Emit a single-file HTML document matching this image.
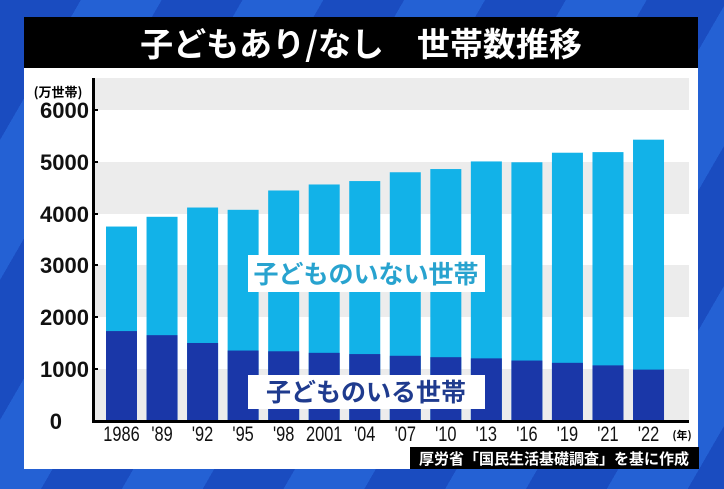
<!DOCTYPE html><html><head><meta charset="utf-8"><style>
body{margin:0;width:724px;height:489px;overflow:hidden;font-family:"Liberation Sans","Noto Sans CJK JP",sans-serif;
background:repeating-linear-gradient(120deg,#1a4cc0 0 70px,#2461d4 70px 140px);}
.abs{position:absolute}
</style></head><body>
<div class="abs" style="left:24px;top:17px;width:674px;height:452px;background:#fff"></div>
<div class="abs" style="left:24px;top:17px;width:674px;height:51px;background:#000;color:#fff;font-size:33px;font-weight:bold;text-align:center;line-height:51px;font-family:'Noto Sans CJK JP',sans-serif;">子どもあり/なし　世帯数推移</div>
<svg class="abs" style="left:0;top:0" width="724" height="489">
<g fill="#ececec">
<rect x="94" y="78" width="595" height="32"/>
<rect x="94" y="162" width="595" height="52"/>
<rect x="94" y="265" width="595" height="52"/>
<rect x="94" y="369" width="595" height="52"/>
</g>
<g id="bars"></g>
<rect x="92" y="78" width="3" height="345" fill="#000"/>
<rect x="92" y="420" width="597" height="3" fill="#000"/>
<g stroke="#000" stroke-width="2">
<line x1="92" y1="110" x2="98" y2="110"/><line x1="92" y1="162" x2="98" y2="162"/><line x1="92" y1="214" x2="98" y2="214"/><line x1="92" y1="265" x2="98" y2="265"/><line x1="92" y1="317" x2="98" y2="317"/><line x1="92" y1="369" x2="98" y2="369"/>
</g>
<g font-family="Liberation Sans,sans-serif" font-weight="bold" font-size="22" text-anchor="end" fill="#111">
<text x="89" y="118">6000</text><text x="89" y="170">5000</text><text x="89" y="222">4000</text><text x="89" y="273">3000</text><text x="89" y="325">2000</text><text x="89" y="377">1000</text><text x="62" y="429">0</text>
</g>
<text x="58" y="97" font-size="13" font-weight="bold" text-anchor="middle" font-family="Noto Sans CJK JP,sans-serif">(万世帯)</text>
<g id="xl" font-family="Liberation Sans,sans-serif" font-size="21" text-anchor="middle" fill="#111" transform="scale(0.78,1)"></g>
<text x="682" y="439" font-size="11" text-anchor="middle" font-weight="bold" font-family="Noto Sans CJK JP,sans-serif">(年)</text>
<rect x="248" y="255" width="237" height="37" fill="#fff"/>
<text x="366" y="283" font-size="25" text-anchor="middle" fill="#28a3cf" font-weight="bold" font-family="Noto Sans CJK JP,sans-serif">子どものいない世帯</text>
<rect x="248" y="375" width="237" height="34" fill="#fff"/>
<text x="366" y="401" font-size="25" text-anchor="middle" fill="#1f3b8e" font-weight="bold" font-family="Noto Sans CJK JP,sans-serif">子どものいる世帯</text>
<rect x="410" y="447" width="289" height="22" fill="#000"/>
<text x="554" y="464" font-size="15" text-anchor="middle" fill="#fff" font-weight="bold" font-family="Noto Sans CJK JP,sans-serif">厚労省「国民生活基礎調査」を基に作成</text>
</svg>
<script>
var d=[[3754,1736],[3942,1657],[4121,1506],[4077,1360],[4450,1346],[4566,1316],[4632,1292],[4802,1259],[4864,1232],[5011,1209],[4995,1167],[5179,1123],[5191,1074],[5431,992]];
var L=["1986","'89","'92","'95","'98","2001","'04","'07","'10","'13","'16","'19","'21","'22"];
var b='',t='';
d.forEach(function(v,i){var x=106+i*40.54,k=0.0518;
b+='<rect x="'+x+'" y="'+(421-v[0]*k)+'" width="31" height="'+(v[0]*k)+'" fill="#12b2e8"/>';
b+='<rect x="'+x+'" y="'+(421-v[1]*k)+'" width="31" height="'+(v[1]*k)+'" fill="#1a37a8"/>';
t+='<text x="'+((x+15.5)/0.78)+'" y="441">'+L[i]+'</text>';});
document.getElementById('bars').innerHTML=b;document.getElementById('xl').innerHTML=t;
</script>
</body></html>
